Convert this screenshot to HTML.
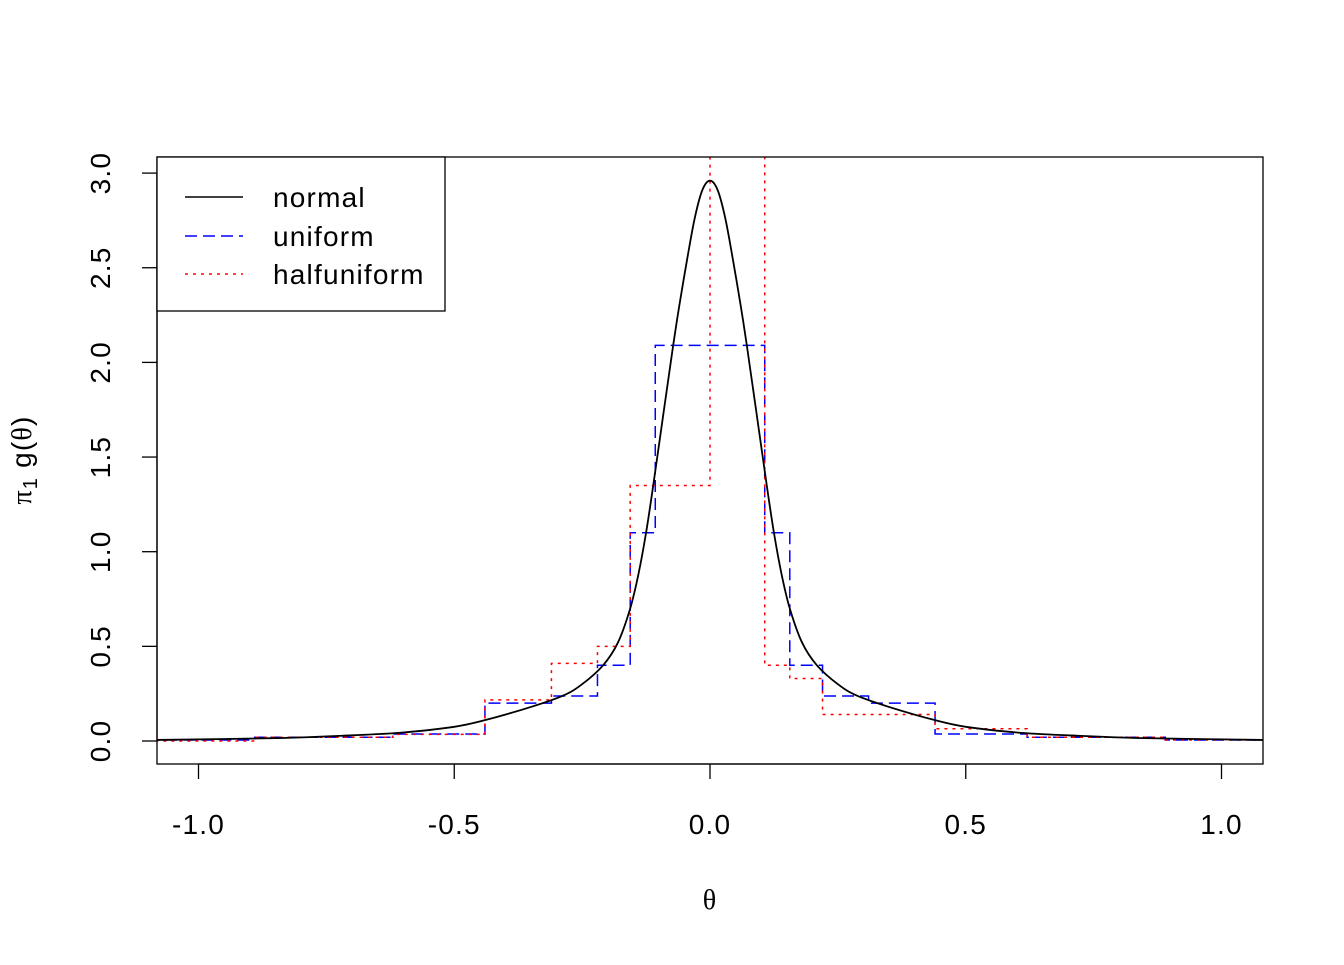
<!DOCTYPE html>
<html><head><meta charset="utf-8"><style>
html,body{margin:0;padding:0;background:#fff}
svg text{font-family:"Liberation Sans",sans-serif;letter-spacing:1.2px}
</style></head><body>
<svg id="chart" width="1344" height="960" xmlns="http://www.w3.org/2000/svg">
<defs><clipPath id="clip"><rect x="157" y="157" width="1106" height="607"/></clipPath></defs>
<g id="marks" clip-path="url(#clip)"></g>
<rect x="157" y="157" width="1106" height="607" fill="none" stroke="#000" stroke-width="1.3"/>
<g id="axes"></g>
<text x="710" y="909" text-anchor="middle" font-size="28" style="font-family:'Liberation Serif',serif">θ</text>
<g transform="translate(31,460) rotate(-90)">
<text text-anchor="middle" font-size="28"><tspan style="font-family:'Liberation Serif',serif">π</tspan><tspan font-size="20" dy="6">1</tspan><tspan dy="-6"> g(</tspan><tspan style="font-family:'Liberation Serif',serif">θ</tspan><tspan>)</tspan></text>
</g>
<g>
<rect x="157" y="157" width="288" height="154" fill="#fff" stroke="#000" stroke-width="1.3"/>
<line x1="185" y1="197" x2="243" y2="197" stroke="#000" stroke-width="1.5"/>
<text x="273" y="207" font-size="28">normal</text>
<line x1="185" y1="236" x2="243" y2="236" stroke="#00f" stroke-width="1.5" stroke-dasharray="12,6"/>
<text x="273" y="246" font-size="28">uniform</text>
<line x1="185" y1="274" x2="243" y2="274" stroke="#f00" stroke-width="1.5" stroke-dasharray="3,5"/>
<text x="273" y="284" font-size="28">halfuniform</text>
</g>
</svg>
<script>
const xTicks=[-1.0,-0.5,0.0,0.5,1.0];
const xTickLabels=["-1.0","-0.5","0.0","0.5","1.0"];
const yTicks=[0,0.5,1,1.5,2,2.5,3];
const yTickLabels=["0.0","0.5","1.0","1.5","2.0","2.5","3.0"];
const normalX=[-1.1,-0.85,-0.7,-0.6,-0.5,-0.44,-0.35,-0.287,-0.25,-0.209,-0.18,-0.156,-0.14,-0.125,-0.111,-0.09,-0.072,-0.06,-0.045,-0.03,-0.015,0,0.015,0.03,0.045,0.06,0.072,0.09,0.111,0.125,0.14,0.156,0.18,0.209,0.25,0.287,0.35,0.44,0.5,0.6,0.7,0.85,1.1];
const normalY=[0.005,0.015,0.03,0.045,0.075,0.11,0.18,0.24,0.30,0.40,0.52,0.70,0.88,1.10,1.35,1.75,2.09,2.30,2.54,2.76,2.91,2.96,2.91,2.76,2.54,2.30,2.09,1.75,1.35,1.10,0.88,0.70,0.52,0.40,0.30,0.24,0.18,0.11,0.075,0.045,0.03,0.015,0.005];
const uniformBreaks=[-1.1,-0.89,-0.62,-0.44,-0.31,-0.22,-0.156,-0.107,0.107,0.156,0.22,0.31,0.44,0.62,0.89,1.1];
const uniformVals=[0.005,0.02,0.037,0.20,0.238,0.40,1.10,2.09,1.10,0.40,0.238,0.20,0.037,0.02,0.005];
const halfBreaks=[-1.1,-0.89,-0.62,-0.44,-0.31,-0.22,-0.156,0,0.107,0.156,0.22,0.44,0.62,0.89,1.1];
const halfVals=[0.0,0.02,0.035,0.217,0.41,0.50,1.35,3.4,0.40,0.33,0.14,0.065,0.02,0.005];

const NS="http://www.w3.org/2000/svg";
const sx=v=>710+v*511.5, sy=v=>741-v*189.3;
const marks=document.getElementById('marks'), axes=document.getElementById('axes');
function mk(tag,attrs,parent){const e=document.createElementNS(NS,tag);for(const k in attrs)e.setAttribute(k,attrs[k]);parent.appendChild(e);return e;}
function stepPath(b,v){let d='M'+sx(b[0])+','+sy(v[0]);for(let i=0;i<v.length;i++){d+=' L'+sx(b[i+1])+','+sy(v[i]);if(i+1<v.length)d+=' L'+sx(b[i+1])+','+sy(v[i+1]);}return d;}
function smoothPath(xs,ys){
  const P=xs.map((x,i)=>[sx(x),sy(ys[i])]);
  let d='M'+P[0][0]+','+P[0][1];
  for(let i=0;i<P.length-1;i++){
    const p0=P[Math.max(i-1,0)],p1=P[i],p2=P[i+1],p3=P[Math.min(i+2,P.length-1)];
    const c1=[p1[0]+(p2[0]-p0[0])/6,p1[1]+(p2[1]-p0[1])/6];
    const c2=[p2[0]-(p3[0]-p1[0])/6,p2[1]-(p3[1]-p1[1])/6];
    d+=' C'+c1[0]+','+c1[1]+' '+c2[0]+','+c2[1]+' '+p2[0]+','+p2[1];
  }
  return d;
}
let p=mk('path',{d:stepPath(uniformBreaks,uniformVals),fill:'none',stroke:'#00f','stroke-width':1.5,'stroke-dasharray':'12,6'},marks);


p=mk('path',{d:stepPath(halfBreaks,halfVals),fill:'none',stroke:'#f00','stroke-width':1.5,'stroke-dasharray':'3,5'},marks);


p=mk('path',{d:smoothPath(normalX,normalY),fill:'none',stroke:'#000','stroke-width':1.8},marks);


let a=mk('line',{x1:sx(xTicks[0]),x2:sx(xTicks[xTicks.length-1]),y1:764,y2:764,stroke:'#000','stroke-width':1.3},axes);


xTicks.forEach((t,i)=>{
  const l=mk('line',{x1:sx(t),x2:sx(t),y1:764,y2:779,stroke:'#000','stroke-width':1.3},axes);
  
  
  const tx=mk('text',{x:sx(t),y:834,'text-anchor':'middle','font-size':28},axes);
  tx.textContent=xTickLabels[i];
  
  
});
a=mk('line',{x1:157,x2:157,y1:sy(yTicks[0]),y2:sy(yTicks[yTicks.length-1]),stroke:'#000','stroke-width':1.3},axes);


yTicks.forEach((t,i)=>{
  const l=mk('line',{x1:142,x2:157,y1:sy(t),y2:sy(t),stroke:'#000','stroke-width':1.3},axes);
  
  
  const tx=mk('text',{x:0,y:0,'text-anchor':'middle','font-size':28,transform:'translate(110,'+sy(t)+') rotate(-90)'},axes);
  tx.textContent=yTickLabels[i];
  
  
});
</script>
</body></html>
